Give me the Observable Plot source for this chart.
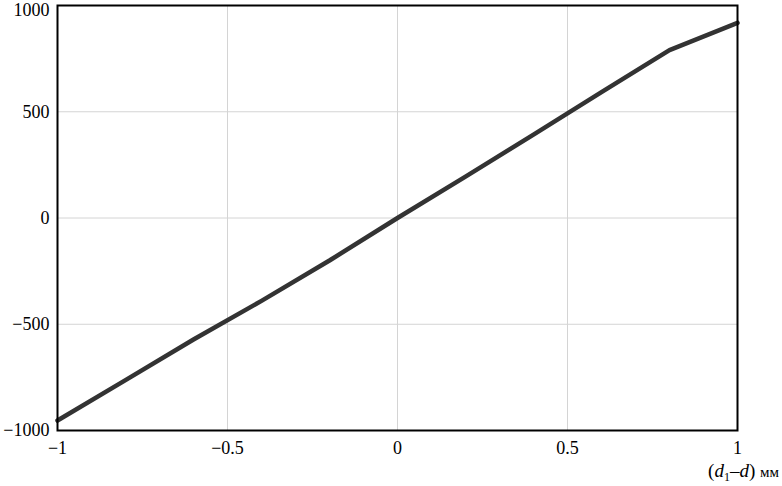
<!DOCTYPE html>
<html><head><meta charset="utf-8">
<script src="https://cdn.jsdelivr.net/npm/d3@7"></script>
<script src="https://cdn.jsdelivr.net/npm/@observablehq/plot@0.6"></script>
<style>
body{margin:0;background:#fff}
#chart svg, #chart svg text, #chart svg tspan { font-family: "Liberation Serif", "Times New Roman", serif !important; }
</style>
</head><body><div id="chart"></div>
<script>
const xValues = [-1, -0.8, -0.6, -0.4, -0.2, 0, 0.2, 0.4, 0.6, 0.8, 1];
const yValues = [-953, -763, -572, -390, -200, 0, 195, 392, 592, 790, 918];
const xTicks = [-1, -0.5, 0, 0.5, 1];
const yTicksLower = [-1000, -500, 0, 500];
const yTickTop = [1000];
const gridX = [-0.5, 0, 0.5];
const gridY = [-500, 0, 500];
const data = xValues.map((x, i) => ({x, y: yValues[i]}));
const fmt = d => (d < 0 ? "\u2212" + String(-d) : String(d));

const chart = Plot.plot({
  width: 782, height: 486,
  marginLeft: 57, marginRight: 45, marginTop: 5, marginBottom: 56,
  style: {fontFamily: "Liberation Serif, serif", fontSize: "18px", color: "#000", background: "#fff"},
  x: {domain: [-1, 1]},
  y: {domain: [-1000, 1000]},
  marks: [
    Plot.ruleX(gridX, {stroke: "#d4d4d4", strokeWidth: 1}),
    Plot.ruleY(gridY, {stroke: "#d4d4d4", strokeWidth: 1}),
    Plot.axisX(xTicks, {tickSize: 0, tickPadding: 11, tickFormat: fmt, label: null, fontSize: 18}),
    Plot.axisY(yTicksLower, {tickSize: 0, tickPadding: 8, tickFormat: fmt, label: null, fontSize: 18}),
    Plot.axisY(yTickTop, {tickSize: 0, tickPadding: 8, tickFormat: fmt, label: null, fontSize: 18, dy: 5}),
    Plot.line(data, {x: "x", y: "y", stroke: "#333", strokeWidth: 4.5, strokeLinejoin: "round"}),
    Plot.frame({stroke: "#000", strokeWidth: 2})
  ]
});
document.getElementById("chart").appendChild(chart);

const svg = d3.select(chart);
const t = svg.append("text")
  .attr("x", 779).attr("y", 477)
  .attr("text-anchor", "end")
  .attr("font-size", 19)
  .attr("fill", "#000");
t.append("tspan").text("(");
t.append("tspan").attr("font-style", "italic").text("d");
t.append("tspan").attr("font-size", 12).attr("dy", 4).text("1");
t.append("tspan").attr("dy", -4).text("\u2013");
t.append("tspan").attr("font-style", "italic").text("d");
t.append("tspan").text(") ");
t.append("tspan").attr("font-size", 15).text("мм");
</script>
</body></html>
